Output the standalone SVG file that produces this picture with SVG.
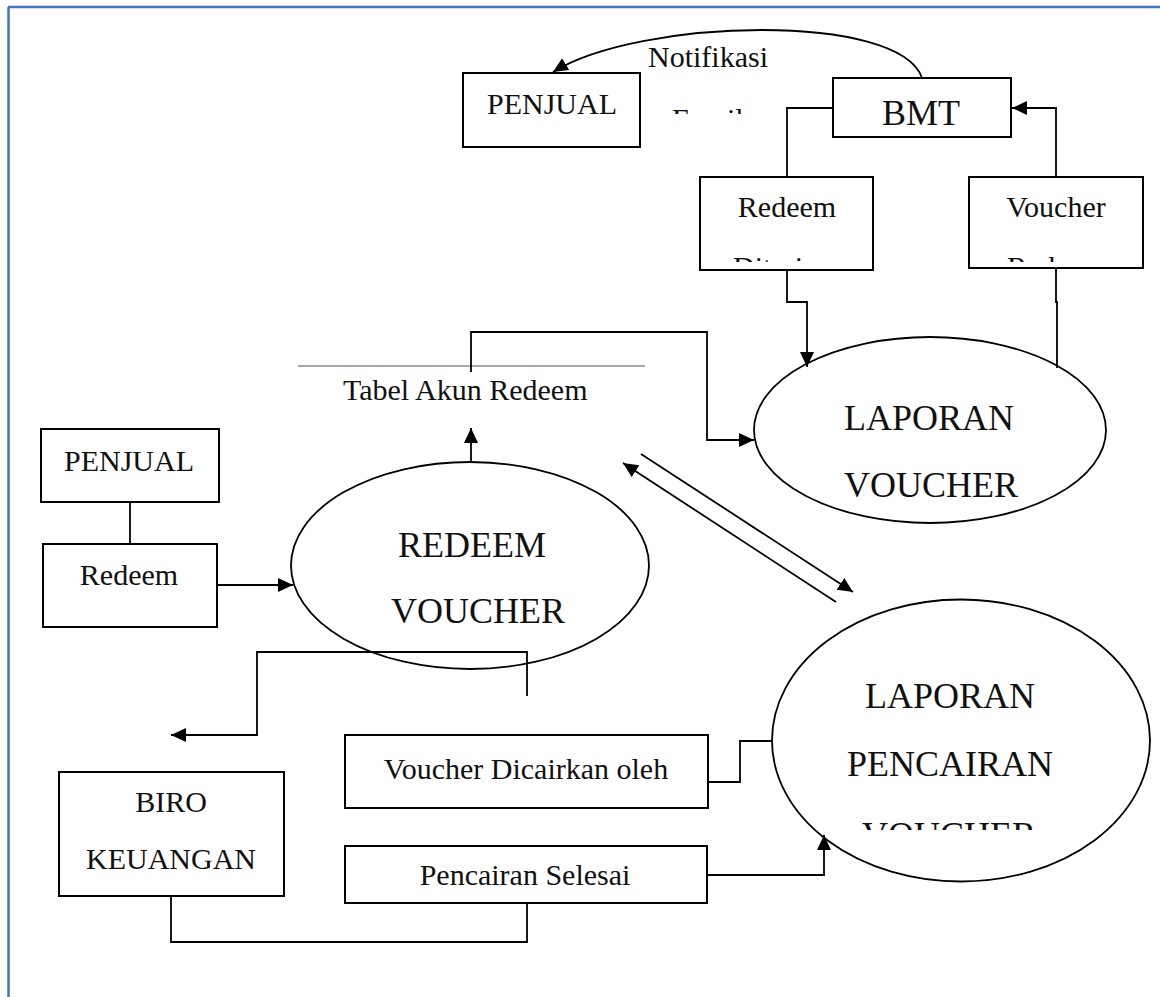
<svg xmlns="http://www.w3.org/2000/svg" width="1160" height="997" viewBox="0 0 1160 997">
<style>
.box{fill:#fff;stroke:#000;stroke-width:2}
.ell{fill:#fff;stroke:#000;stroke-width:1.8}
.t{font-family:"Liberation Serif",serif;font-size:30px;fill:#111}
.tb{font-family:"Liberation Serif",serif;font-size:36px;fill:#111}
.c{fill:none;stroke:#000;stroke-width:1.8}
.frame{fill:none;stroke:#4472C4;stroke-width:2.5}
</style>
<defs>
<marker id="ah" markerUnits="userSpaceOnUse" markerWidth="16" markerHeight="14" refX="15" refY="7" orient="auto">
<path d="M0,0 L15,7 L0,14 z" fill="#000"/>
</marker>
<clipPath id="clipEmail"><rect x="640" y="80" width="160" height="34"/></clipPath>
<clipPath id="clipRd"><rect x="700" y="177" width="173" height="85"/></clipPath>
<clipPath id="clipVr"><rect x="969" y="177" width="174" height="85"/></clipPath>
<clipPath id="clipLp"><rect x="770" y="600" width="385" height="230"/></clipPath>
</defs>
<g id="frame">
<line class="frame" x1="8" y1="7" x2="1160" y2="7"/>
<line class="frame" x1="8.5" y1="7" x2="8.5" y2="997"/>
</g>
<g id="node-tabel">
<line x1="298" y1="366" x2="645" y2="366" stroke="#888" stroke-width="1.5"/>
<text class="t" x="343" y="400" font-size="31">Tabel Akun Redeem</text>
</g>
<g id="node-redeem-voucher">
<ellipse class="ell" cx="470" cy="565.5" rx="179" ry="103.5"/>
<text class="tb" x="472" y="557" text-anchor="middle">REDEEM</text>
<text class="tb" x="478" y="623" text-anchor="middle">VOUCHER</text>
</g>
<g id="node-laporan-voucher">
<ellipse class="ell" cx="930" cy="430" rx="176" ry="93"/>
<text class="tb" x="929" y="430" text-anchor="middle">LAPORAN</text>
<text class="tb" x="931" y="497" text-anchor="middle">VOUCHER</text>
</g>
<g id="node-laporan-pencairan">
<ellipse class="ell" cx="961" cy="740.5" rx="189" ry="141"/>
<text class="tb" x="950" y="708" text-anchor="middle">LAPORAN</text>
<text class="tb" x="950" y="776" text-anchor="middle">PENCAIRAN</text>
<text class="tb" x="949" y="847" text-anchor="middle" clip-path="url(#clipLp)">VOUCHER</text>
</g>
<g id="connectors">
<path class="c" d="M922,78 C900,12 640,18 553,72" marker-end="url(#ah)"/>
<path class="c" d="M833,108 H787 V177"/>
<path class="c" d="M787,270 V302 H807 V367" marker-end="url(#ah)"/>
<path class="c" d="M1057,368 V302 H1056 V268"/>
<path class="c" d="M1056,177 V108 H1012" marker-end="url(#ah)"/>
<path class="c" d="M471,372 V332 H707 V440 H754" marker-end="url(#ah)"/>
<path class="c" d="M471,462 V428" marker-end="url(#ah)"/>
<path class="c" d="M130,502 V544"/>
<path class="c" d="M217,585 H293" marker-end="url(#ah)"/>
<path class="c" d="M641,454 L853,592" marker-end="url(#ah)"/>
<path class="c" d="M836,602 L623,463" marker-end="url(#ah)"/>
<path class="c" d="M527,696 V652 H257 V735 H171" marker-end="url(#ah)"/>
<path class="c" d="M708,782 H740 V741 H772"/>
<path class="c" d="M706,875 H824 V835" marker-end="url(#ah)"/>
<path class="c" d="M171,896 V942 H527 V903"/>
</g>
<g id="node-penjual-top">
<rect class="box" x="463" y="73" width="177" height="74"/>
<text class="t" x="552" y="114" text-anchor="middle">PENJUAL</text>
</g>
<g id="node-notifikasi">
<text class="t" x="648" y="67">Notifikasi</text>
<text class="t" x="672" y="129" clip-path="url(#clipEmail)">Email</text>
</g>
<g id="node-bmt">
<rect class="box" x="833" y="78" width="178" height="59"/>
<text class="tb" x="921" y="125" text-anchor="middle">BMT</text>
</g>
<g id="node-redeem-diterima">
<rect class="box" x="700" y="177" width="173" height="93"/>
<text class="t" x="787" y="217" text-anchor="middle">Redeem</text>
<text class="t" x="733" y="277" clip-path="url(#clipRd)">Diterima</text>
</g>
<g id="node-voucher-redeem">
<rect class="box" x="969" y="177" width="174" height="91"/>
<text class="t" x="1056" y="217" text-anchor="middle">Voucher</text>
<text class="t" x="1007" y="277" clip-path="url(#clipVr)">Redeem</text>
</g>
<g id="node-penjual">
<rect class="box" x="41" y="429" width="178" height="73"/>
<text class="t" x="129" y="471" text-anchor="middle">PENJUAL</text>
</g>
<g id="node-redeem">
<rect class="box" x="43" y="544" width="174" height="83"/>
<text class="t" x="129" y="585" text-anchor="middle">Redeem</text>
</g>
<g id="node-voucher-dicairkan">
<rect class="box" x="345" y="735" width="363" height="73"/>
<text class="t" x="526" y="779" text-anchor="middle">Voucher Dicairkan oleh</text>
</g>
<g id="node-pencairan-selesai">
<rect class="box" x="345" y="846" width="362" height="57"/>
<text class="t" x="525" y="885" text-anchor="middle">Pencairan Selesai</text>
</g>
<g id="node-biro">
<rect class="box" x="59" y="772" width="225" height="124"/>
<text class="t" x="171" y="812" text-anchor="middle">BIRO</text>
<text class="t" x="171" y="869" text-anchor="middle">KEUANGAN</text>
</g>
</svg>
